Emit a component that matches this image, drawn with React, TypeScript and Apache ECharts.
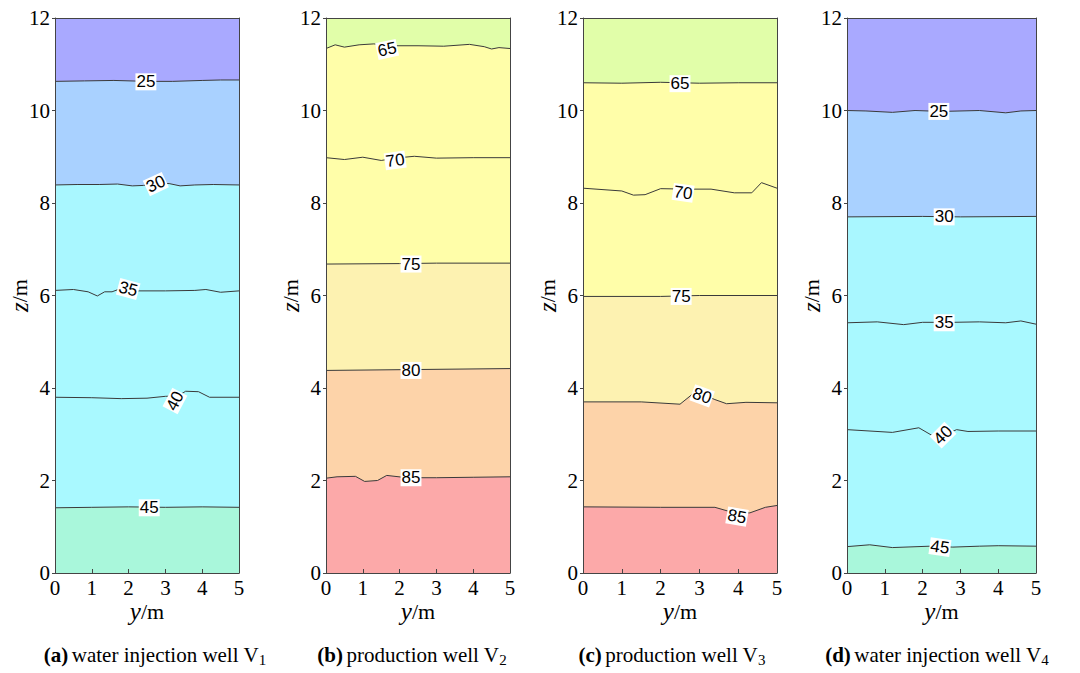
import React, { useEffect, useRef } from "react";
import * as echarts from "echarts";

// ---- Data ----
const X_RANGE = [0, 5];
const Z_RANGE = [0, 12];
const X_TICKS = [0, 1, 2, 3, 4, 5];
const Z_TICKS = [0, 2, 4, 6, 8, 10, 12];

// Panel (a) water injection well V1
const A_LEVELS = [25, 30, 35, 40, 45];
const A_L25 = [[0, 10.63], [0.8, 10.64], [1.6, 10.65], [2.5, 10.63], [3.2, 10.63], [4, 10.65], [4.5, 10.66], [5, 10.66]];
const A_L30 = [[0, 8.39], [0.6, 8.4], [1.2, 8.4], [1.7, 8.41], [2.1, 8.37], [2.4, 8.38], [2.8, 8.43], [3.1, 8.42], [3.4, 8.37], [3.8, 8.39], [4.3, 8.4], [5, 8.39]];
const A_L35 = [[0, 6.11], [0.5, 6.13], [0.9, 6.08], [1.15, 5.99], [1.35, 6.08], [1.55, 6.08], [1.75, 6.14], [2.2, 6.1], [3, 6.1], [3.8, 6.11], [4.1, 6.13], [4.5, 6.07], [5, 6.1]];
const A_L40 = [[0, 3.8], [1, 3.79], [1.8, 3.77], [2.5, 3.78], [3.0, 3.82], [3.35, 3.83], [3.55, 3.93], [3.9, 3.92], [4.2, 3.8], [5, 3.8]];
const A_L45 = [[0, 1.41], [1, 1.42], [2, 1.43], [3, 1.42], [4, 1.43], [5, 1.42]];
const A_LABELS = [[2.47, 10.62, 0], [2.74, 8.41, 25], [1.99, 6.14, -15], [3.26, 3.72, 62], [2.56, 1.41, 0]];

// Panel (b) production well V2
const B_LEVELS = [65, 70, 75, 80, 85];
const B_L65 = [[0, 11.34], [0.25, 11.42], [0.5, 11.37], [0.9, 11.42], [1.3, 11.44], [1.8, 11.4], [2.5, 11.4], [3.2, 11.39], [3.9, 11.43], [4.3, 11.38], [4.5, 11.33], [4.7, 11.36], [5, 11.34]];
const B_L70 = [[0, 8.98], [0.5, 8.94], [1.0, 8.99], [1.5, 8.92], [2.0, 8.98], [2.4, 9.01], [3.0, 8.97], [4, 8.98], [5, 8.98]];
const B_L75 = [[0, 6.68], [2, 6.69], [3, 6.7], [5, 6.7]];
const B_L80 = [[0, 4.38], [2.5, 4.4], [5, 4.42]];
const B_L85 = [[0, 2.05], [0.3, 2.08], [0.8, 2.09], [1.05, 1.98], [1.4, 2.0], [1.65, 2.11], [2.2, 2.06], [3, 2.06], [4, 2.07], [5, 2.08]];
const B_LABELS = [[1.66, 11.32, 12], [1.88, 8.92, 8], [2.31, 6.68, 0], [2.31, 4.38, 0], [2.31, 2.06, 0]];

// Panel (c) production well V3
const C_LEVELS = [65, 70, 75, 80, 85];
const C_L65 = [[0, 10.6], [1, 10.59], [2, 10.61], [3, 10.59], [4, 10.6], [5, 10.6]];
const C_L70 = [[0, 8.32], [1.0, 8.26], [1.3, 8.17], [1.6, 8.18], [2.0, 8.31], [2.7, 8.3], [3.3, 8.3], [3.9, 8.22], [4.35, 8.22], [4.6, 8.44], [5, 8.32]];
const C_L75 = [[0, 5.98], [2, 5.98], [3, 6.0], [5, 6.0]];
const C_L80 = [[0, 3.7], [1.5, 3.7], [2.5, 3.65], [2.9, 3.92], [3.4, 3.75], [3.7, 3.66], [4.2, 3.69], [5, 3.68]];
const C_L85 = [[0, 1.43], [2, 1.42], [3.4, 1.42], [3.9, 1.3], [4.3, 1.3], [4.7, 1.42], [5, 1.46]];
const C_LABELS = [[2.5, 10.58, 0], [2.58, 8.22, -8], [2.53, 5.98, 0], [3.07, 3.83, -20], [3.97, 1.22, -10]];

// Panel (d) water injection well V4
const D_LEVELS = [25, 30, 35, 40, 45];
const D_L25 = [[0, 10.0], [0.5, 9.99], [1.2, 9.96], [1.8, 10.0], [2.5, 9.98], [3.5, 10.0], [4.2, 9.95], [4.6, 9.99], [5, 10.0]];
const D_L30 = [[0, 7.7], [2, 7.71], [3, 7.7], [5, 7.71]];
const D_L35 = [[0, 5.41], [0.8, 5.43], [1.5, 5.37], [2, 5.42], [2.8, 5.42], [3.5, 5.43], [4.2, 5.41], [4.6, 5.45], [5, 5.38]];
const D_L40 = [[0, 3.1], [1.2, 3.04], [1.9, 3.14], [2.3, 2.95], [2.5, 2.95], [2.9, 3.1], [3.2, 3.06], [4, 3.07], [5, 3.07]];
const D_L45 = [[0, 0.57], [0.6, 0.61], [1.2, 0.55], [2.2, 0.58], [2.8, 0.56], [3.5, 0.58], [4, 0.59], [5, 0.58]];
const D_LABELS = [[2.43, 9.98, 0], [2.57, 7.7, 0], [2.57, 5.41, 0], [2.54, 2.98, 45], [2.46, 0.56, -8]];

const CAPTION_TAGS = ["(a)", "(b)", "(c)", "(d)"];
const CAPTION_TEXTS = ["water injection well V", "production well V", "production well V", "water injection well V"];
const CAPTION_SUBS = ["1", "2", "3", "4"];
const X_NAME = ["y", "/m"];
const Z_NAME = ["z", "/m"];

// ---- Styles ----
const COLD = ["#A9A9FF", "#A9D1FF", "#A9F7FF", "#A9F9FF", "#A9F9FF", "#A9F7DB"];
const WARM = ["#E1FEA9", "#FFFEA9", "#FFFEA9", "#FDF2B1", "#FDD3A9", "#FCA9A9"];

const PANELS = [
  { levels: A_LEVELS, lines: [A_L25, A_L30, A_L35, A_L40, A_L45], labels: A_LABELS, colors: COLD, left: 55, width: 184, cx: 155 },
  { levels: B_LEVELS, lines: [B_L65, B_L70, B_L75, B_L80, B_L85], labels: B_LABELS, colors: WARM, left: 326, width: 184, cx: 412 },
  { levels: C_LEVELS, lines: [C_L65, C_L70, C_L75, C_L80, C_L85], labels: C_LABELS, colors: WARM, left: 583, width: 194, cx: 672 },
  { levels: D_LEVELS, lines: [D_L25, D_L30, D_L35, D_L40, D_L45], labels: D_LABELS, colors: COLD, left: 847, width: 189, cx: 937 },
];

const SERIF = "Liberation Serif";
const SANS = "Liberation Sans";
const TXT_RICH = {
  t: { fontFamily: SERIF, fontSize: 21, fill: "#000", lineHeight: 20 },
  i: { fontFamily: SERIF, fontStyle: "italic", fontSize: 25, fill: "#000", lineHeight: 22 },
  r: { fontFamily: SERIF, fontSize: 22, fill: "#000", lineHeight: 22 },
};

function txt(x: number, y: number, text: string, align: string, vAlign: string, rotation = 0) {
  return {
    type: "text", x, y, rotation, z: 60, silent: true,
    style: { x: 0, y: 0, text, align, verticalAlign: vAlign, rich: TXT_RICH },
  };
}

export default function App() {
  const ref = useRef<HTMLDivElement>(null);
  useEffect(() => {
    if (!ref.current) return;
    const chart = echarts.init(ref.current, undefined, { renderer: "svg" });
    const grid: any[] = [];
    const xAxis: any[] = [];
    const yAxis: any[] = [];
    const series: any[] = [];
    const captions: any[] = [];
    PANELS.forEach((p, i) => {
      grid.push({ left: p.left, width: p.width, top: 18, height: 555, outerBoundsMode: "none" });
      xAxis.push({
        type: "value", gridIndex: i, min: X_RANGE[0], max: X_RANGE[1], interval: 1, z: 10,
        axisLine: { show: true, lineStyle: { color: "#444", width: 1 } },
        axisTick: { show: true, inside: true, length: 4, lineStyle: { color: "#444" } },
        splitLine: { show: false },
        axisLabel: { show: false },
      });
      xAxis.push({
        type: "value", gridIndex: i, position: "top", min: X_RANGE[0], max: X_RANGE[1], z: 10,
        axisLine: { show: true, onZero: false, lineStyle: { color: "#444", width: 1 } },
        axisTick: { show: false }, axisLabel: { show: false }, splitLine: { show: false },
      });
      yAxis.push({
        type: "value", gridIndex: i, min: Z_RANGE[0], max: Z_RANGE[1], interval: 2, z: 10,
        axisLine: { show: true, lineStyle: { color: "#444", width: 1 } },
        axisTick: { show: true, inside: false, length: 3, lineStyle: { color: "#444" } },
        splitLine: { show: false },
        axisLabel: { show: false },
      });
      yAxis.push({
        type: "value", gridIndex: i, position: "right", min: Z_RANGE[0], max: Z_RANGE[1], z: 10,
        axisLine: { show: true, onZero: false, lineStyle: { color: "#444", width: 1 } },
        axisTick: { show: false }, axisLabel: { show: false }, splitLine: { show: false },
      });
      const xi = i * 2;
      const yi = i * 2;
      series.push({
        type: "line", xAxisIndex: xi, yAxisIndex: yi, data: [[X_RANGE[0], Z_RANGE[1]], [X_RANGE[1], Z_RANGE[1]]],
        symbol: "none", lineStyle: { width: 0 }, areaStyle: { color: p.colors[0], opacity: 1 }, silent: true,
      });
      p.lines.forEach((ln, k) => {
        series.push({
          type: "line", xAxisIndex: xi, yAxisIndex: yi, data: ln, symbol: "none",
          lineStyle: { color: "#3a3a3a", width: 1 },
          areaStyle: { color: p.colors[k + 1], opacity: 1 }, silent: true,
        });
      });
      series.push({
        type: "scatter", xAxisIndex: xi, yAxisIndex: yi, symbolSize: 0, z: 20,
        itemStyle: { opacity: 1 },
        data: p.labels.map((l, k) => ({
          value: [l[0], l[1]], name: String(p.levels[k]),
          label: { rotate: l[2] },
        })),
        label: {
          show: true, position: "inside", formatter: (d: any) => d.name,
          color: "#000", fontFamily: SANS, fontSize: 17, backgroundColor: "#fff", padding: [0, 1, 0, 1],
          textBorderWidth: 0, opacity: 1,
        },
      });
      captions.push({
        type: "text", x: p.cx, y: 643, z: 50,
        style: {
          x: 0, y: 0,
          text: `{b|${CAPTION_TAGS[i]}} {n|${CAPTION_TEXTS[i]}}{s|${CAPTION_SUBS[i]}}`,
          align: "center",
          rich: {
            b: { fontFamily: SERIF, fontSize: 21, fontWeight: "bold", fill: "#000", lineHeight: 24 },
            n: { fontFamily: SERIF, fontSize: 21, fill: "#000", lineHeight: 24 },
            s: { fontFamily: SERIF, fontSize: 15, fill: "#000", lineHeight: 14, verticalAlign: "bottom" },
          },
        },
      });
    });
    chart.setOption({
      animation: false,
      backgroundColor: "#fff",
      grid, xAxis, yAxis, series,
    });

    // axis tick labels and names, placed through the chart's own scales
    const els: any[] = [...captions];
    const seriesPerPanel = series.length / PANELS.length;
    PANELS.forEach((p, i) => {
      const finder = { seriesIndex: i * seriesPerPanel };
      const px = (x: number, z: number) => chart.convertToPixel(finder as any, [x, z]) as number[];
      X_TICKS.forEach((v) => {
        const pt = px(v, Z_RANGE[0]);
        els.push(txt(pt[0], pt[1] + 15, `{t|${v}}`, "center", "middle"));
      });
      Z_TICKS.forEach((v) => {
        const pt = px(X_RANGE[0], v);
        els.push(txt(pt[0] - 5, pt[1], `{t|${v}}`, "right", "middle"));
      });
      const origin = px(X_RANGE[0], Z_RANGE[0]);
      const mid = px((X_RANGE[0] + X_RANGE[1]) / 2, (Z_RANGE[0] + Z_RANGE[1]) / 2);
      els.push(txt(mid[0], origin[1] + 38, `{i|${X_NAME[0]}}{r|${X_NAME[1]}}`, "center", "middle"));
      els.push(txt(origin[0] - 36, mid[1], `{i|${Z_NAME[0]}}{r|${Z_NAME[1]}}`, "center", "middle", Math.PI / 2));
    });
    chart.setOption({ graphic: { elements: els } });
    return () => chart.dispose();
  }, []);
  return <div ref={ref} style={{ position: "fixed", left: 0, top: 0, width: 1080, height: 673 }} />;
}
